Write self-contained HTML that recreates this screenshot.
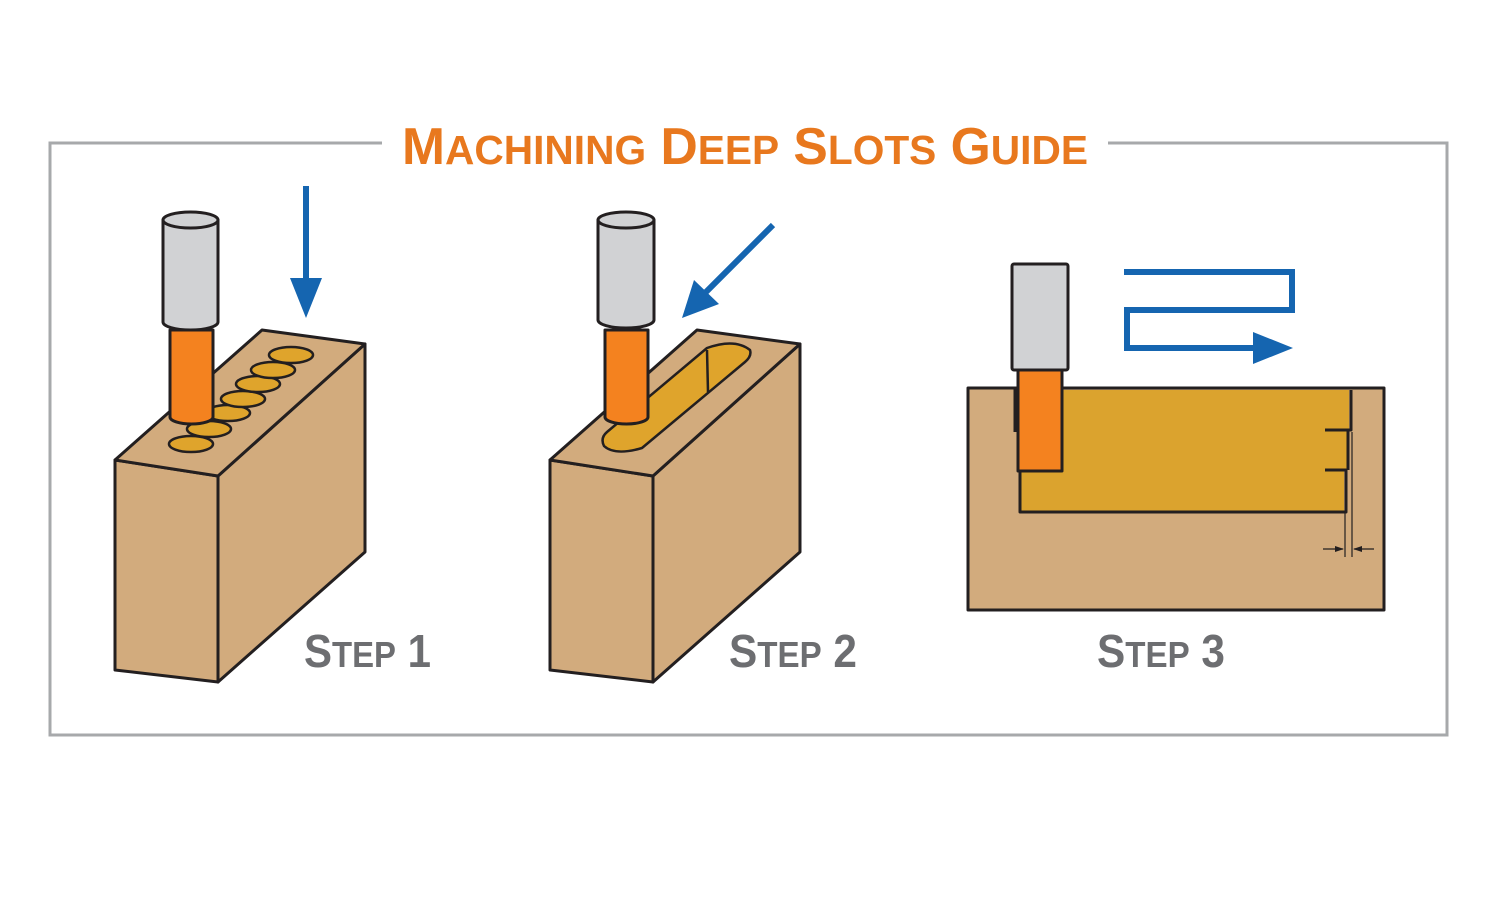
<!DOCTYPE html>
<html><head><meta charset="utf-8"><style>html,body{margin:0;padding:0;background:#fff}svg{display:block}</style></head>
<body>
<svg width="1500" height="900" viewBox="0 0 1500 900" xmlns="http://www.w3.org/2000/svg">
<rect width="1500" height="900" fill="#fff"/>
<path d="M382,143 L50,143 L50,735 L1447,735 L1447,143 L1108,143" fill="none" stroke="#a7a9ab" stroke-width="3"/>
<text x="402" y="164" fill="#e8781e" font-family="Liberation Sans, sans-serif" font-weight="bold" font-size="52" textLength="686" lengthAdjust="spacingAndGlyphs">M<tspan font-size="41">ACHINING</tspan> D<tspan font-size="41">EEP</tspan> S<tspan font-size="41">LOTS</tspan> G<tspan font-size="41">UIDE</tspan></text>

<g stroke="#231f20" stroke-width="3" stroke-linejoin="round">
<!-- Step 1 -->
<polygon points="115,460 218,476 218,682 115,670" fill="#d2ab7d"/>
<polygon points="218,476 365,344 365,552 218,682" fill="#d2ab7d"/>
<polygon points="115,460 262,330 365,344 218,476" fill="#d2ab7d"/>
<g fill="#dfa42c" stroke-width="2.5">
<ellipse cx="191" cy="444" rx="22" ry="8"/>
<ellipse cx="209" cy="429" rx="22" ry="8"/>
<ellipse cx="228" cy="413" rx="22" ry="8"/>
<ellipse cx="243" cy="399" rx="22" ry="8"/>
<ellipse cx="258" cy="384" rx="22" ry="8"/>
<ellipse cx="273" cy="370" rx="22" ry="8"/>
<ellipse cx="291" cy="355" rx="22" ry="8"/>
</g>
<path d="M170,330 L170,417 A21.5,7 0 0 0 213,417 L213,330 Z" fill="#f4821f"/>
<path d="M163,220 L163,322 A27.5,8 0 0 0 218,322 L218,220 Z" fill="#d1d2d4"/>
<ellipse cx="190.5" cy="220" rx="27.5" ry="8" fill="#d1d2d4"/>

<!-- Step 2 -->
<polygon points="550,460 653,476 653,682 550,670" fill="#d2ab7d"/>
<polygon points="653,476 800,344 800,552 653,682" fill="#d2ab7d"/>
<polygon points="550,460 697,330 800,344 653,476" fill="#d2ab7d"/>
<path d="M607,432 L707,348 Q735,338 750,350 Q752,356 745,362 L642,448 Q615,456 604,446 Q600,438 607,432 Z" fill="#dfa42c" stroke-width="2.5"/>
<line x1="707" y1="350" x2="708" y2="392" stroke-width="2.5"/>
<path d="M605,330 L605,417 A21.5,7 0 0 0 648,417 L648,330 Z" fill="#f4821f"/>
<path d="M598,220 L598,320 A28,8 0 0 0 654,320 L654,220 Z" fill="#d1d2d4"/>
<ellipse cx="626" cy="220" rx="28" ry="8" fill="#d1d2d4"/>

<!-- Step 3 -->
<rect x="968" y="388" width="416" height="222" fill="#d2ab7d"/>
<rect x="1020" y="390" width="324" height="121" fill="#dba32e" stroke="none"/>
<rect x="1344" y="390" width="5" height="80" fill="#dba32e" stroke="none"/>
<path d="M1020,470 L1020,512 L1346,512 L1346,470 L1325,470 M1325,430 L1351,430 L1351,390" fill="none"/>
<line x1="1348" y1="430" x2="1348" y2="470"/>
<line x1="1015" y1="388" x2="1015" y2="432"/>
<rect x="1018" y="370" width="44" height="101" fill="#f4821f"/>
<rect x="1012" y="264" width="56" height="106" fill="#d1d2d4" rx="2"/>
<g stroke-width="1.2">
<line x1="1345" y1="512" x2="1345" y2="557"/>
<line x1="1352" y1="432" x2="1352" y2="557"/>
<line x1="1323" y1="549" x2="1343" y2="549"/>
<line x1="1354" y1="549" x2="1374" y2="549"/>
</g>
<polygon points="1344,549 1335,546 1335,552" fill="#231f20" stroke="none"/>
<polygon points="1353,549 1362,546 1362,552" fill="#231f20" stroke="none"/>
</g>

<!-- Blue arrows -->
<g fill="#1565b0" stroke="#1565b0">
<line x1="306" y1="186" x2="306" y2="290" stroke-width="6"/>
<polygon points="290,278 322,278 306,318" stroke="none"/>
<line x1="773" y1="225" x2="705" y2="293" stroke-width="6"/>
<polygon points="682,318 694,280 719,304" stroke="none"/>
<path d="M1124,272 L1292,272 L1292,310 L1127,310 L1127,348 L1262,348" fill="none" stroke-width="6"/>
<polygon points="1253,332 1293,348 1253,364" stroke="none"/>
</g>

<g fill="#6d6e71" font-family="Liberation Sans, sans-serif" font-weight="bold">
<text x="304" y="667" font-size="46" textLength="127" lengthAdjust="spacingAndGlyphs">S<tspan font-size="36">TEP</tspan> 1</text>
<text x="729" y="667" font-size="46" textLength="128" lengthAdjust="spacingAndGlyphs">S<tspan font-size="36">TEP</tspan> 2</text>
<text x="1097" y="667" font-size="46" textLength="128" lengthAdjust="spacingAndGlyphs">S<tspan font-size="36">TEP</tspan> 3</text>
</g>
</svg>
</body></html>
